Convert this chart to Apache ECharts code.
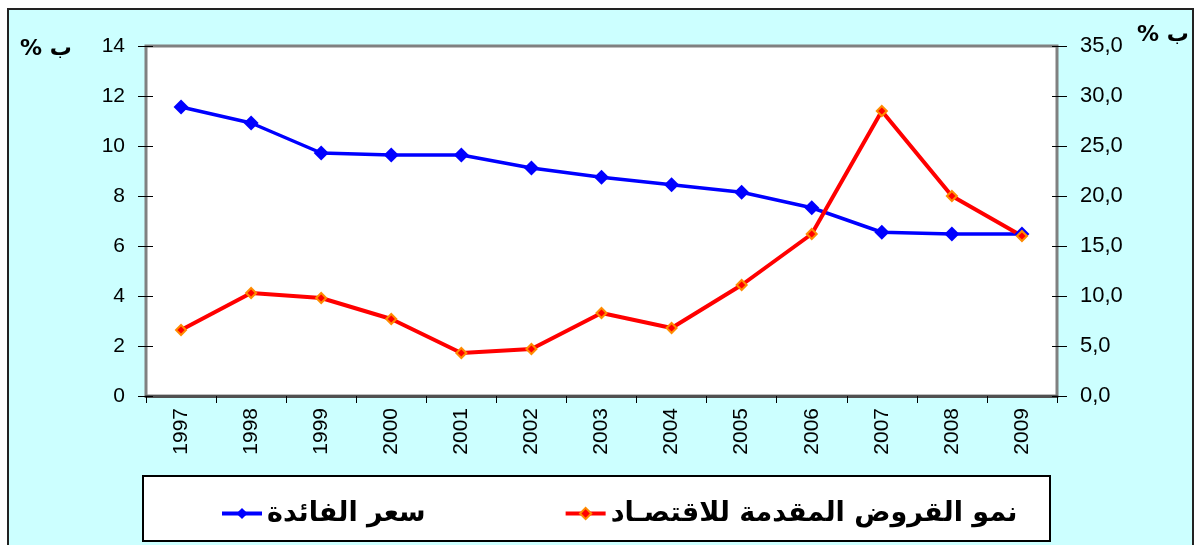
<!DOCTYPE html>
<html><head><meta charset="utf-8">
<script src="https://cdn.jsdelivr.net/npm/echarts@6/dist/echarts.min.js"></script>
<style>html,body{margin:0;padding:0;background:#fff}#c{width:1196px;height:545px}</style>
</head><body><div id="c"></div>
<script>
var years = ['1997','1998','1999','2000','2001','2002','2003','2004','2005','2006','2007','2008','2009'];
var interestRate = [11.56, 10.92, 9.72, 9.64, 9.64, 9.12, 8.75, 8.45, 8.15, 7.53, 6.55, 6.48, 6.48];
var loanGrowth = [6.6, 10.3, 9.8, 7.7, 4.3, 4.7, 8.3, 6.8, 11.1, 16.2, 28.5, 20.0, 16.0];
var nameRate = 'سعر الفائدة';
var nameLoans = 'نمو القروض المقدمة للاقتصـاد';
var unitLabel = '% ب';

var chart = echarts.init(document.getElementById('c'), null, {renderer:'canvas'});
var txt = {color:'#000', fontFamily:'Liberation Sans, Arial, sans-serif'};
chart.setOption({
  backgroundColor:'#fff',
  animation:false,
  graphic:{elements:[
    {type:'rect', z:-100, shape:{x:8,y:9,width:1185,height:545}, style:{fill:'#CCFFFF', stroke:'#222', lineWidth:2}},
    {type:'rect', z:-99, shape:{x:143,y:476,width:907,height:65}, style:{fill:'#fff', stroke:'#000', lineWidth:2}},
    {type:'text', left:20, top:38, style:{text:unitLabel, font:'bold 22px "DejaVu Sans", sans-serif', fill:'#000'}},
    {type:'text', left:1137, top:24, style:{text:unitLabel, font:'bold 22px "DejaVu Sans", sans-serif', fill:'#000'}}
  ]},
  legend:{
    left:215, top:495, itemWidth:40, itemHeight:14, itemGap:138,
    lineStyle:{width:4},
    textStyle:{color:'#000', fontSize:27, fontWeight:'bold', fontFamily:'DejaVu Sans, sans-serif'},
    data:[nameRate, nameLoans]
  },
  grid:{left:146, right:139, top:46, bottom:149, show:true, backgroundColor:'#fff', borderColor:'#808080', borderWidth:3},
  xAxis:{
    type:'category', data:years, boundaryGap:true,
    axisLine:{show:true, lineStyle:{color:'#505050', width:3}},
    axisTick:{show:true, length:7, lineStyle:{color:'#000', width:1}},
    axisLabel:{rotate:90, fontSize:21, margin:12, color:'#000', fontFamily:txt.fontFamily}
  },
  yAxis:[
    {type:'value', min:0, max:14, interval:2, position:'left',
     axisLine:{show:false}, splitLine:{show:false},
     axisTick:{show:true, length:8, lineStyle:{color:'#000'}},
     axisLabel:{fontSize:21, margin:21, color:'#000', fontFamily:txt.fontFamily}},
    {type:'value', min:0, max:35, interval:5, position:'right',
     axisLine:{show:false}, splitLine:{show:false},
     axisTick:{show:true, length:10, lineStyle:{color:'#000'}},
     axisLabel:{fontSize:22, margin:23, color:'#000', fontFamily:txt.fontFamily,
       formatter:function(v){return v.toFixed(1).replace('.', ',');}}},
    {type:'value', min:0, max:14, interval:2, position:'left',
     axisLine:{show:false}, splitLine:{show:false}, axisLabel:{show:false},
     axisTick:{show:true, inside:true, length:7, lineStyle:{color:'#000'}}},
    {type:'value', min:0, max:35, interval:5, position:'right',
     axisLine:{show:false}, splitLine:{show:false}, axisLabel:{show:false},
     axisTick:{show:true, inside:true, length:5, lineStyle:{color:'#000'}}}
  ],
  series:[
    {name:nameRate, type:'line', yAxisIndex:0, data:interestRate,
     symbol:'diamond', symbolSize:15, showAllSymbol:true,
     lineStyle:{color:'#0000FF', width:3.5},
     itemStyle:{color:'#0000FF'}},
    {name:nameLoans, type:'line', yAxisIndex:1, data:loanGrowth,
     symbol:'diamond', symbolSize:10, showAllSymbol:true,
     lineStyle:{color:'#FF0000', width:4},
     itemStyle:{color:'#FF0000', borderColor:'#FF8C00', borderWidth:2}}
  ]
});
</script></body></html>
